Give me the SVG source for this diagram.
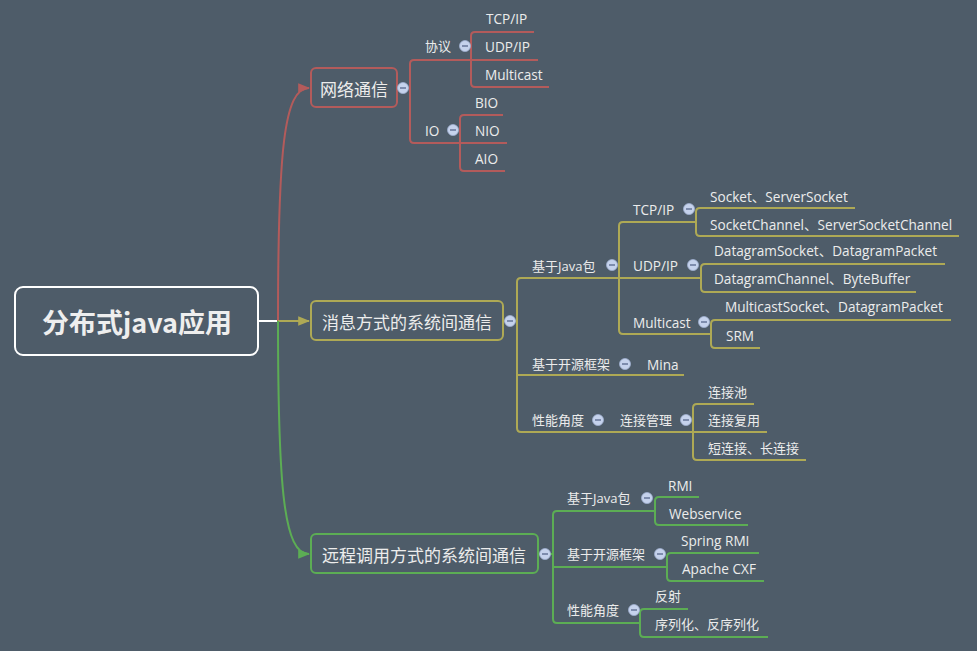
<svg xmlns="http://www.w3.org/2000/svg" width="977" height="651" viewBox="0 0 977 651">
<defs>
<style>
.t{font-family:"Open Sans","Noto Sans CJK SC",sans-serif;font-size:13px;fill:#ececec;dominant-baseline:central}
.l{font-size:13.6px}
.m{font-family:"Noto Sans CJK SC","Open Sans",sans-serif;font-size:17px;fill:#ececec;dominant-baseline:central;text-anchor:middle}
.r{stroke:#b35b5b}.y{stroke:#aea955}.g{stroke:#5cad54}
.ln{fill:none;stroke-width:2}
.box{fill:#4e5c69;stroke-width:2}
.c{fill:#c5d2ec;stroke:#9fb0d0;stroke-width:0.8}
.cm{stroke:#5d6f92;stroke-width:1.4}
</style>
<marker id="ar" viewBox="0 0 10 10" refX="9" refY="5" markerWidth="6" markerHeight="6" orient="auto"><path d="M0,1 L10,5 L0,9 z" fill="#b35b5b"/></marker>
<marker id="ay" viewBox="0 0 10 10" refX="9" refY="5" markerWidth="6" markerHeight="6" orient="auto"><path d="M0,1 L10,5 L0,9 z" fill="#aea955"/></marker>
<marker id="ag" viewBox="0 0 10 10" refX="9" refY="5" markerWidth="6" markerHeight="6" orient="auto"><path d="M0,1 L10,5 L0,9 z" fill="#5cad54"/></marker>
<g id="col"><circle class="c" cx="0" cy="0" r="5.5"/><line class="cm" x1="-3" y1="0" x2="3" y2="0"/></g>
</defs>
<rect width="977" height="651" fill="#4e5c69"/>

<g id="connectors">
<line x1="258" y1="321" x2="278" y2="321" stroke="#ffffff" stroke-width="2"/>
<path class="ln r" d="M278 321 C278 150 284 88 309 88" marker-end="url(#ar)"/>
<path class="ln y" d="M278 321 H309" marker-end="url(#ay)"/>
<path class="ln g" d="M278 321 C278 490 284 554 309 554" marker-end="url(#ag)"/>

<path class="ln r" d="M397 88 H410 M471 60 H414 Q410 60 410 64 V139 Q410 143 414 143 H460"/>
<path class="ln r" d="M534 32 H475 Q471 32 471 36 V83 Q471 87 475 87 H549 M471 60 H538"/>
<path class="ln r" d="M503 115 H464 Q460 115 460 119 V167 Q460 171 464 171 H505 M460 143 H507"/>

<path class="ln y" d="M503 321 H517 M619 278 H521 Q517 278 517 282 V428 Q517 432 521 432 H693 M517 375 H684"/>
<path class="ln y" d="M696 222 H623 Q619 222 619 226 V330 Q619 334 623 334 H711 M619 278 H701"/>
<path class="ln y" d="M855 208 H700 Q696 208 696 212 V232 Q696 236 700 236 H959"/>
<path class="ln y" d="M945 264 H705 Q701 264 701 268 V288 Q701 292 705 292 H916"/>
<path class="ln y" d="M951 320 H715 Q711 320 711 324 V344 Q711 348 715 348 H760"/>
<path class="ln y" d="M754 404 H697 Q693 404 693 408 V456 Q693 460 697 460 H806 M693 432 H767"/>

<path class="ln g" d="M538 554 H553 M655 511 H557 Q553 511 553 515 V619 Q553 623 557 623 H640 M553 567 H667"/>
<path class="ln g" d="M699 497 H659 Q655 497 655 501 V521 Q655 525 659 525 H748"/>
<path class="ln g" d="M759 553 H671 Q667 553 667 557 V577 Q667 581 671 581 H764"/>
<path class="ln g" d="M688 609 H644 Q640 609 640 613 V633 Q640 637 644 637 H768"/>
</g>

<g id="root">
<rect x="15" y="287" width="243" height="68" rx="8" fill="#4e5c69" stroke="#ffffff" stroke-width="2"/>
<text x="137" y="321" font-family="'Noto Sans CJK SC','Open Sans',sans-serif" font-size="27" font-weight="bold" fill="#eeeeee" text-anchor="middle" dominant-baseline="central">分布式java应用</text>
</g>

<g id="n1">
<rect class="box r" x="311" y="68" width="86" height="39" rx="5"/>
<text class="m" x="354" y="88">网络通信</text>
<use href="#col" x="403" y="88"/>
</g>
<g id="n1a"><text class="t" x="425" y="46">协议</text><use href="#col" x="465" y="46"/></g>
<g id="n1a1"><text class="t l" x="486" y="18">TCP/IP</text></g>
<g id="n1a2"><text class="t l" x="485" y="46">UDP/IP</text></g>
<g id="n1a3"><text class="t l" x="485" y="74">Multicast</text></g>
<g id="n1b"><text class="t l" x="425" y="130">IO</text><use href="#col" x="453" y="130"/></g>
<g id="n1b1"><text class="t l" x="475" y="102">BIO</text></g>
<g id="n1b2"><text class="t l" x="475" y="130">NIO</text></g>
<g id="n1b3"><text class="t l" x="475" y="158">AIO</text></g>

<g id="n2">
<rect class="box y" x="311" y="301" width="192" height="39" rx="5"/>
<text class="m" x="407" y="321">消息方式的系统间通信</text>
<use href="#col" x="510" y="321"/>
</g>
<g id="n2a"><text class="t" x="532" y="266">基于Java包</text><use href="#col" x="612" y="265"/></g>
<g id="n2a1"><text class="t l" x="633" y="209">TCP/IP</text><use href="#col" x="689" y="209"/></g>
<g id="n2a1a"><text class="t l" x="710" y="196">Socket、ServerSocket</text></g>
<g id="n2a1b"><text class="t l" x="710" y="224">SocketChannel、ServerSocketChannel</text></g>
<g id="n2a2"><text class="t l" x="633" y="265">UDP/IP</text><use href="#col" x="693" y="265"/></g>
<g id="n2a2a"><text class="t l" x="714" y="250">DatagramSocket、DatagramPacket</text></g>
<g id="n2a2b"><text class="t l" x="714" y="278">DatagramChannel、ByteBuffer</text></g>
<g id="n2a3"><text class="t l" x="633" y="322">Multicast</text><use href="#col" x="704" y="322"/></g>
<g id="n2a3a"><text class="t l" x="725" y="306">MulticastSocket、DatagramPacket</text></g>
<g id="n2a3b"><text class="t l" x="726" y="335">SRM</text></g>
<g id="n2b"><text class="t" x="532" y="364">基于开源框架</text><use href="#col" x="625" y="364"/></g>
<g id="n2b1"><text class="t l" x="647" y="364">Mina</text></g>
<g id="n2c"><text class="t" x="532" y="420">性能角度</text><use href="#col" x="598" y="420"/></g>
<g id="n2c1"><text class="t" x="620" y="420">连接管理</text><use href="#col" x="686" y="420"/></g>
<g id="n2c1a"><text class="t" x="708" y="392">连接池</text></g>
<g id="n2c1b"><text class="t" x="708" y="420">连接复用</text></g>
<g id="n2c1c"><text class="t" x="708" y="448">短连接、长连接</text></g>

<g id="n3">
<rect class="box g" x="311" y="534" width="227" height="39" rx="5"/>
<text class="m" x="424" y="554">远程调用方式的系统间通信</text>
<use href="#col" x="545" y="554"/>
</g>
<g id="n3a"><text class="t" x="567" y="498">基于Java包</text><use href="#col" x="647" y="498"/></g>
<g id="n3a1"><text class="t l" x="668" y="485">RMI</text></g>
<g id="n3a2"><text class="t l" x="669" y="513">Webservice</text></g>
<g id="n3b"><text class="t" x="567" y="554">基于开源框架</text><use href="#col" x="660" y="554"/></g>
<g id="n3b1"><text class="t l" x="681" y="540">Spring RMI</text></g>
<g id="n3b2"><text class="t l" x="682" y="568">Apache CXF</text></g>
<g id="n3c"><text class="t" x="567" y="610">性能角度</text><use href="#col" x="634" y="610"/></g>
<g id="n3c1"><text class="t" x="655" y="596">反射</text></g>
<g id="n3c2"><text class="t" x="655" y="624">序列化、反序列化</text></g>
</svg>
